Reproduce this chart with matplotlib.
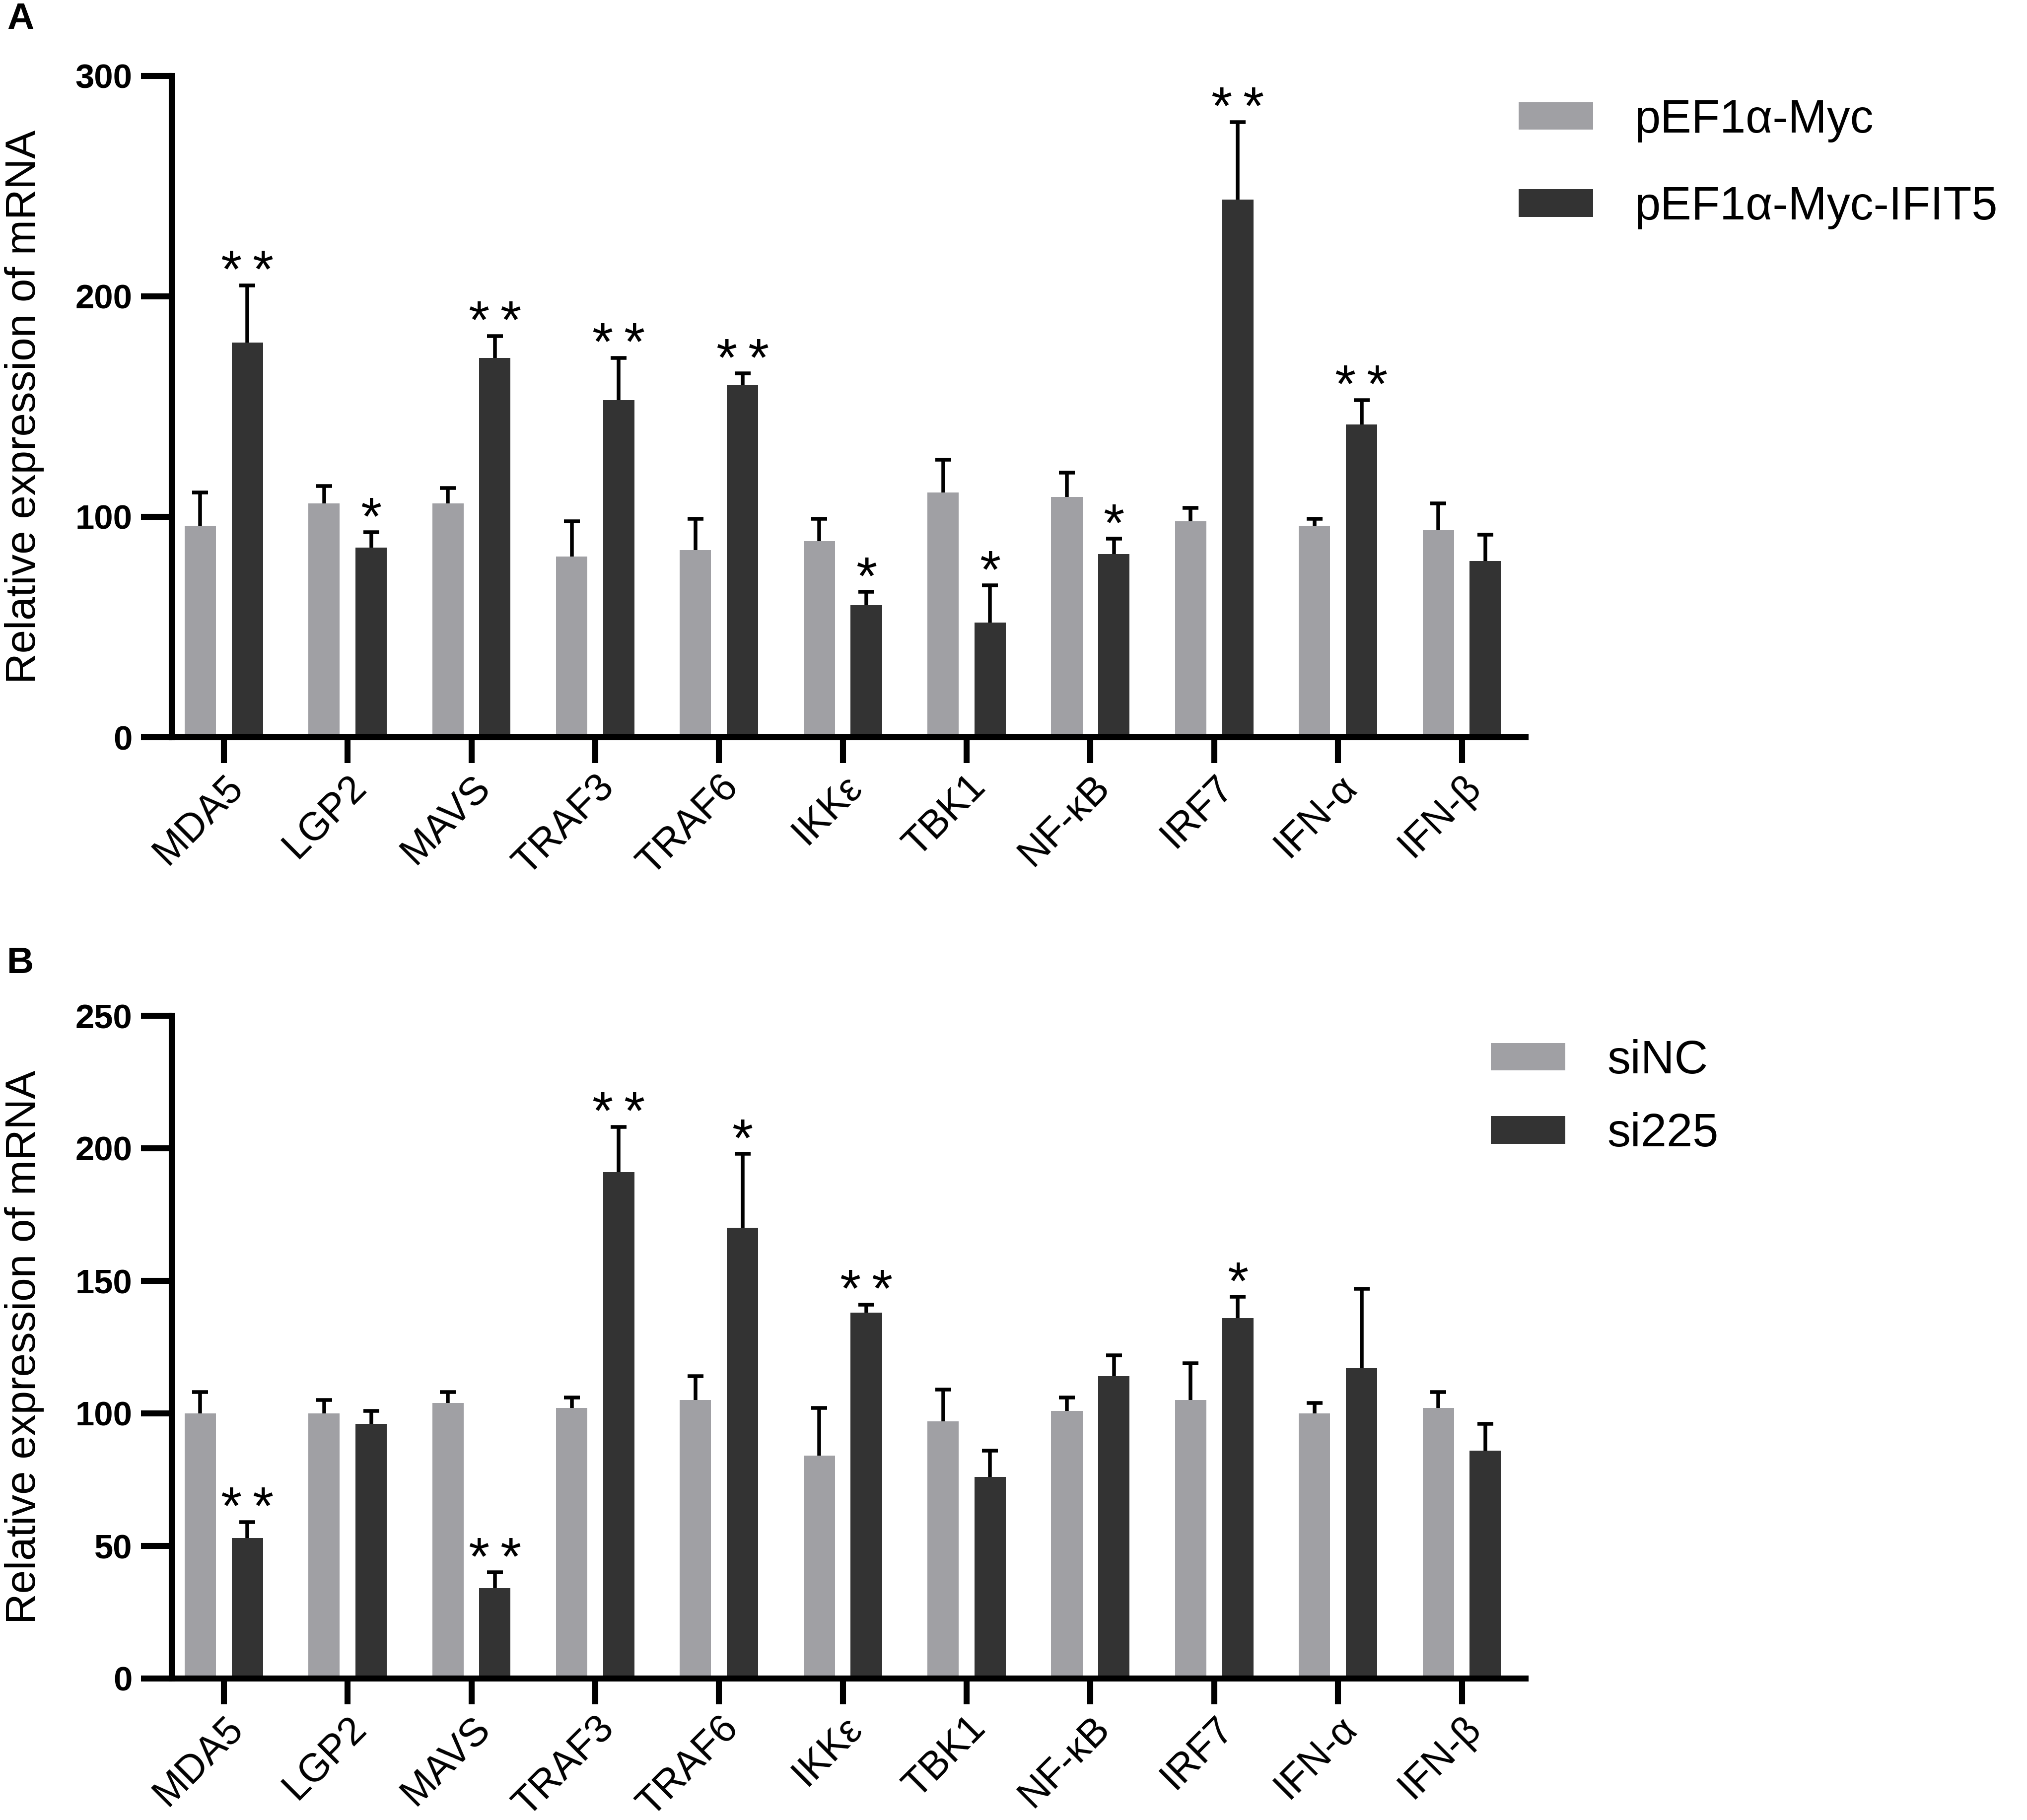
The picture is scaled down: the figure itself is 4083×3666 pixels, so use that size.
import numpy as np
import matplotlib
matplotlib.use("Agg")
import matplotlib.pyplot as plt

plt.rcParams['font.family'] = ['Liberation Sans', 'DejaVu Sans']

genes = ["MDA5", "LGP2", "MAVS", "TRAF3", "TRAF6", "IKK\u03b5", "TBK1",
         "NF-\u03baB", "IRF7", "IFN-\u03b1", "IFN-\u03b2"]

# Panel A
a_ctrl = [96, 106, 106, 82, 85, 89, 111, 109, 98, 96, 94]
a_ctrl_err = [15, 8, 7, 16, 14, 10, 15, 11, 6, 3, 12]
a_trt = [179, 86, 172, 153, 160, 60, 52, 83, 244, 142, 80]
a_trt_err = [26, 7, 10, 19, 5, 6, 17, 7, 35, 11, 12]
a_sig = ["**", "*", "**", "**", "**", "*", "*", "*", "**", "**", ""]
a_labels = ["pEF1\u03b1-Myc", "pEF1\u03b1-Myc-IFIT5"]
a_yticks = [0, 100, 200, 300]

# Panel B
b_ctrl = [100, 100, 104, 102, 105, 84, 97, 101, 105, 100, 102]
b_ctrl_err = [8, 5, 4, 4, 9, 18, 12, 5, 14, 4, 6]
b_trt = [53, 96, 34, 191, 170, 138, 76, 114, 136, 117, 86]
b_trt_err = [6, 5, 6, 17, 28, 3, 10, 8, 8, 30, 10]
b_sig = ["**", "", "**", "**", "*", "**", "", "", "*", "", ""]
b_labels = ["siNC", "si225"]
b_yticks = [0, 50, 100, 150, 200, 250]

GRAY = "#a0a0a4"
DARK = "#333333"

W, H = 4083, 3666
DPI = 300
fig = plt.figure(figsize=(W / DPI, H / DPI), dpi=DPI)


def panel(rect, ctrl, ctrl_err, trt, trt_err, sig, labels, yticks,
          leg_anchor, leg_spacing, letter, letter_y):
    ax = fig.add_axes(rect)
    x = np.arange(len(genes))
    w = 0.253
    off = 0.19
    ax.bar(x - off, ctrl, w, color=GRAY, label=labels[0], zorder=2)
    ax.bar(x + off, trt, w, color=DARK, label=labels[1], zorder=2)
    for xs, vals, errs in ((x - off, ctrl, ctrl_err), (x + off, trt, trt_err)):
        eb = ax.errorbar(xs, vals, yerr=[np.zeros(len(vals)), errs], fmt='none',
                         ecolor='black', elinewidth=1.8, capsize=3.8,
                         capthick=1.8, zorder=3)
        eb[1][0].set_visible(False)
    for xi, v, e, s in zip(x + off, trt, trt_err, sig):
        if s:
            txt = "\u2009".join(list(s))
            ax.annotate(txt, (xi, v + e), xytext=(0, -1), textcoords='offset points',
                        ha='center', va='baseline', fontsize=26)
    ax.set_xlim(-0.42, len(genes) - 1 + 0.515)
    ax.set_ylim(yticks[0], yticks[-1])
    ax.set_yticks(yticks)
    ax.set_yticklabels([str(t) for t in yticks], fontsize=16.5, fontweight='bold')
    ax.set_xticks(x)
    ax.set_xticklabels(genes, fontsize=19, rotation=45, ha='right',
                       va='top', rotation_mode='anchor')
    for sp in ('top', 'right'):
        ax.spines[sp].set_visible(False)
    for sp in ('left', 'bottom'):
        ax.spines[sp].set_linewidth(2.9)
    ax.tick_params(axis='y', length=15, width=2.9, pad=4)
    ax.tick_params(axis='x', length=12.5, width=2.9, pad=2.5)
    ax.set_ylabel("Relative expression of mRNA", fontsize=20.5)
    ax.yaxis.set_label_coords(-0.109, 0.5)
    ax.yaxis.label.set_verticalalignment('center')
    ax.legend(loc='upper left', bbox_to_anchor=leg_anchor,
              bbox_transform=fig.transFigure, frameon=False, fontsize=22.5,
              handlelength=1.6, handleheight=0.53, handletextpad=0.9,
              labelspacing=leg_spacing, borderpad=0, borderaxespad=0)
    fig.text(14 / W, 1 - letter_y / H, letter, fontsize=18, fontweight='bold',
             ha='left', va='top')
    return ax


x0 = 346 / W
wA = (3073 - 346) / W
panel([x0, 1 - 1485 / H, wA, (1485 - 153) / H], a_ctrl, a_ctrl_err, a_trt,
      a_trt_err, a_sig, a_labels, a_yticks, (3059 / W, 1 - 198 / H), 0.92,
      "A", 4)
panel([x0, 1 - 3381 / H, wA, (3381 - 2046) / H], b_ctrl, b_ctrl_err, b_trt,
      b_trt_err, b_sig, b_labels, b_yticks, (3003 / W, 1 - 2093 / H), 0.62,
      "B", 1906)

fig.savefig("out.png", dpi=DPI)
